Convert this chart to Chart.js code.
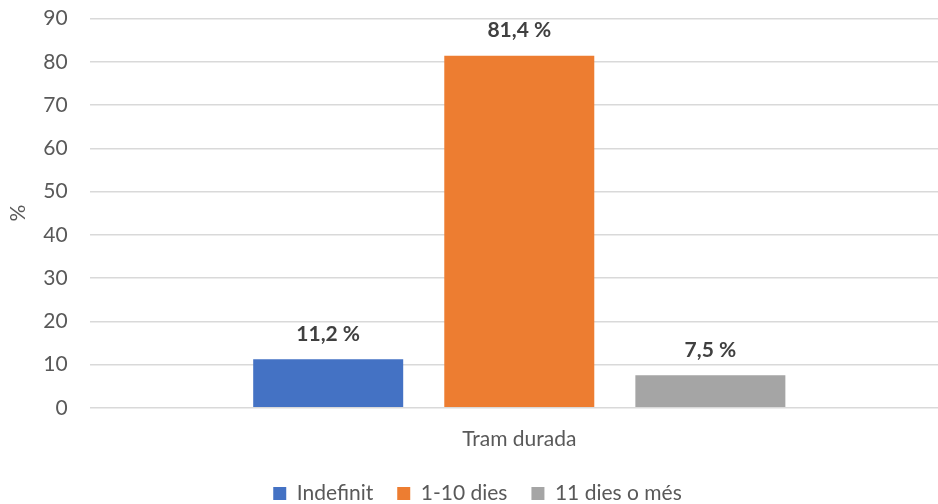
<!DOCTYPE html>
<html>
<head>
<meta charset="utf-8">
<script src="https://cdn.jsdelivr.net/npm/chart.js@4/dist/chart.umd.min.js"></script>
<style>
  html, body { margin:0; padding:0; background:#fff; overflow:hidden; }
  #wrap { width:956px; height:520px; position:relative; top:-16px; }
</style>
</head>
<body>
<div id="wrap"><canvas id="chart"></canvas></div>
<script>
const categories = ["Tram durada"];
const seriesNames = ["Indefinit", "1-10 dies", "11 dies o més"];
const seriesValues = [[11.2], [81.4], [7.5]];
const seriesColors = ["#4472C4", "#ED7D31", "#A5A5A5"];
const yTicks = [0, 10, 20, 30, 40, 50, 60, 70, 80, 90];

const FONT = "Lato, 'Open Sans', sans-serif";

function formatPct(v){
  return v.toFixed(1).replace(".", ",") + " %";
}

// draws the value above each bar, Excel style
const barLabels = {
  id:"barLabels",
  afterDatasetsDraw(chart){
    const ctx = chart.ctx;
    ctx.save();
    ctx.font = "bold 21px " + FONT;
    ctx.fillStyle = "#404040";
    ctx.textAlign = "center";
    ctx.textBaseline = "bottom";
    chart.data.datasets.forEach((ds, i)=>{
      const meta = chart.getDatasetMeta(i);
      meta.data.forEach((bar, j)=>{
        ctx.fillText(formatPct(ds.data[j]), bar.x, bar.y - 15);
      });
    });
    ctx.restore();
  }
};

new Chart(document.getElementById("chart"), {
  type:"bar",
  data:{
    labels:categories,
    datasets:seriesNames.map((name, i)=>({
      label:name,
      data:seriesValues[i],
      backgroundColor:seriesColors[i],
      borderWidth:0,
      categoryPercentage:0.667,
      barPercentage:0.785
    }))
  },
  options:{
    responsive:true,
    maintainAspectRatio:false,
    animation:false,
    layout:{ padding:{ top:8, right:7, left:6, bottom:-10 } },
    plugins:{
      legend:{
        position:"bottom",
        labels:{
          font:{ family:FONT, size:21 },
          color:"#595959",
          boxWidth:13,
          boxHeight:13,
          padding:24
        }
      },
      tooltip:{ enabled:false }
    },
    scales:{
      x:{
        grid:{ display:false },
        border:{ display:false },
        ticks:{
          font:{ family:FONT, size:21 },
          color:"#595959",
          padding:11
        },
        afterFit(axis){
          axis.height -= 4;
        }
      },
      y:{
        min:0,
        max:90,
        afterBuildTicks(axis){
          axis.ticks = yTicks.map(v=>({ value:v }));
        },
        grid:{ color:"#D9D9D9", lineWidth:1.5, drawTicks:false },
        border:{ display:false },
        ticks:{
          font:{ family:FONT, size:21 },
          color:"#595959",
          padding:22
        },
        title:{
          display:true,
          text:"%",
          font:{ family:FONT, size:21 },
          color:"#595959",
          padding:{ top:0, bottom:-10 }
        }
      }
    }
  },
  plugins:[barLabels]
});
</script>
</body>
</html>
